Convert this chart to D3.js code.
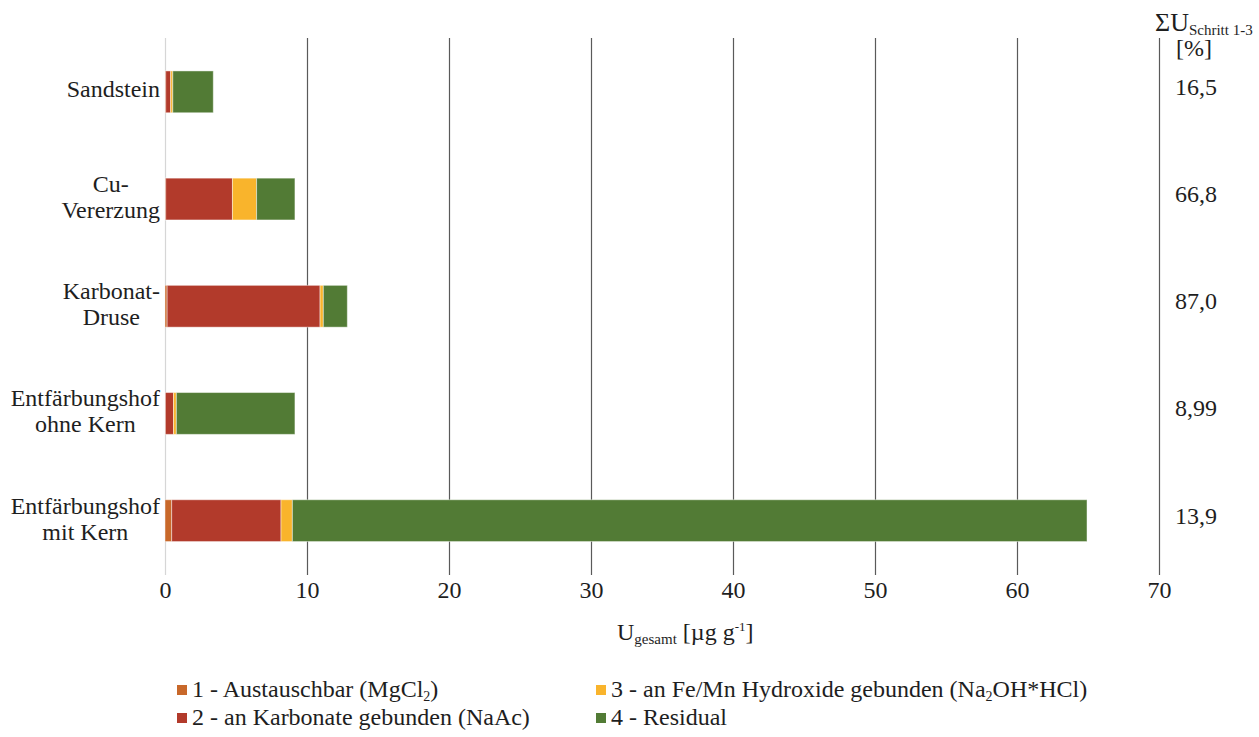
<!DOCTYPE html>
<html>
<head>
<meta charset="utf-8">
<script src="https://cdn.jsdelivr.net/npm/d3@7"></script>
<style>
  html, body { margin: 0; padding: 0; background: #ffffff; }
  svg text { font-family: "Liberation Serif", "Times New Roman", Tinos, "DejaVu Serif", serif; fill: #1e1e1e; }
</style>
</head>
<body>
<svg id="chart" width="1259" height="737"></svg>
<script>
// Uranium fractions per sample (sequential extraction), µg g-1
const categories = ["Sandstein", "Cu-Vererzung", "Karbonat-Druse", "Entfärbungshof ohne Kern", "Entfärbungshof mit Kern"];
const categoryLines = [["Sandstein"], ["Cu-", "Vererzung"], ["Karbonat-", "Druse"], ["Entfärbungshof", "ohne Kern"], ["Entfärbungshof", "mit Kern"]];
const step1 = [0.05, 0.05, 0.15, 0.03, 0.47];   // 1 - Austauschbar (MgCl2)
const step2 = [0.35, 4.70, 10.77, 0.57, 7.70];  // 2 - an Karbonate gebunden (NaAc)
const step3 = [0.15, 1.70, 0.23, 0.20, 0.80];   // 3 - an Fe/Mn Hydroxide gebunden
const step4 = [2.85, 2.70, 1.69, 8.35, 55.96];  // 4 - Residual
const sumLabels = ["16,5", "66,8", "87,0", "8,99", "13,9"];
const xTicks = [0, 10, 20, 30, 40, 50, 60, 70];
const seriesKeys = ["s1", "s2", "s3", "s4"];
const seriesColors = ["#C8682A", "#B23A2B", "#F9B42C", "#527B35"];

const FONT = '"Liberation Serif", "Times New Roman", Tinos, "DejaVu Serif", serif';
const FS = 24;
const rows = categories.map((c, i) => ({ cat: c, s1: step1[i], s2: step2[i], s3: step3[i], s4: step4[i] }));

const svg = d3.select("#chart");
const plotTop = 38, plotBottom = 575;
const x = d3.scaleLinear().domain([0, 70]).range([165, 1159]);
const y = d3.scaleBand().domain(categories).range([49.5, 563]).paddingInner(0.61).paddingOuter(0.2);

// grid / axis
const axis = svg.append("g")
  .attr("transform", `translate(0,${plotBottom})`)
  .call(d3.axisBottom(x).tickValues(xTicks).tickSize(-(plotBottom - plotTop)).tickPadding(6).tickFormat(d3.format("d")));
axis.attr("font-family", FONT);
axis.select(".domain").remove();
axis.selectAll(".tick line").attr("stroke", d => d === 0 ? "#d6d6d6" : "#5a5a5a").attr("stroke-width", 1.2);
axis.selectAll(".tick text").attr("font-size", FS).attr("fill", "#1e1e1e");

// stacked bars
const stacked = d3.stack().keys(seriesKeys)(rows);
svg.append("g").selectAll("g").data(stacked).join("g")
  .attr("fill", (d, i) => seriesColors[i])
  .selectAll("rect").data(d => d).join("rect")
  .attr("x", d => x(d[0]))
  .attr("width", d => x(d[1]) - x(d[0]))
  .attr("y", d => y(d.data.cat))
  .attr("height", y.bandwidth())
  .attr("stroke", "rgba(255,255,255,0.45)")
  .attr("stroke-width", 1);

// category labels (multi-line, centred block, right-aligned against the axis)
categories.forEach((c, i) => {
  const lines = categoryLines[i];
  const cy = y(c) + y.bandwidth() / 2;
  const t = svg.append("text").attr("font-size", FS).attr("text-anchor", "middle");
  const first = lines.length === 1 ? cy + 5 : cy - 7;
  lines.forEach((ln, j) => t.append("tspan").attr("x", 0).attr("y", first + j * 26).text(ln));
  const w = d3.max(t.selectAll("tspan").nodes(), n => n.getComputedTextLength());
  t.selectAll("tspan").attr("x", 160 - w / 2);
});

// sum labels at right
svg.append("g").selectAll("text").data(categories).join("text")
  .attr("x", 1196)
  .attr("y", d => y(d) + y.bandwidth() / 2 + 3)
  .attr("text-anchor", "middle")
  .attr("font-size", FS)
  .text((d, i) => sumLabels[i]);

// header of the sum column
const hdr = svg.append("text").attr("x", 1155).attr("y", 31).attr("font-size", 26);
hdr.append("tspan").text("ΣU");
hdr.append("tspan").attr("font-size", 15).attr("dy", 4).text("Schritt 1-3");
svg.append("text").attr("x", 1176).attr("y", 56).attr("font-size", FS).text("[%]");

// x axis title
const xt = svg.append("text").attr("x", 617).attr("y", 640).attr("font-size", FS);
xt.append("tspan").text("U");
xt.append("tspan").attr("font-size", 15).attr("dy", 4).text("gesamt");
xt.append("tspan").attr("dy", -4).text(" [µg g");
xt.append("tspan").attr("font-size", 13).attr("dy", -9).text("-1");
xt.append("tspan").attr("dy", 9).text("]");

// legend
const legendItems = [
  { c: 0, x: 177, y: 685, parts: [["1 - Austauschbar (MgCl", 0], ["2", 1], [")", 0]] },
  { c: 1, x: 177, y: 713, parts: [["2 - an Karbonate gebunden (NaAc)", 0]] },
  { c: 2, x: 596, y: 685, parts: [["3 - an Fe/Mn Hydroxide gebunden (Na", 0], ["2", 1], ["OH*HCl)", 0]] },
  { c: 3, x: 596, y: 713, parts: [["4 - Residual", 0]] }
];
const lg = svg.append("g");
legendItems.forEach(it => {
  lg.append("rect").attr("x", it.x).attr("y", it.y).attr("width", 10).attr("height", 10).attr("fill", seriesColors[it.c]);
  const t = lg.append("text").attr("x", it.x + 15).attr("y", it.y + 12).attr("font-size", FS);
  let sub = 0;
  it.parts.forEach(([s, isSub]) => {
    const ts = t.append("tspan").text(s);
    if (isSub && !sub) { ts.attr("font-size", 14).attr("dy", 4); sub = 1; }
    else if (!isSub && sub) { ts.attr("dy", -4); sub = 0; }
  });
});
</script>
</body>
</html>
